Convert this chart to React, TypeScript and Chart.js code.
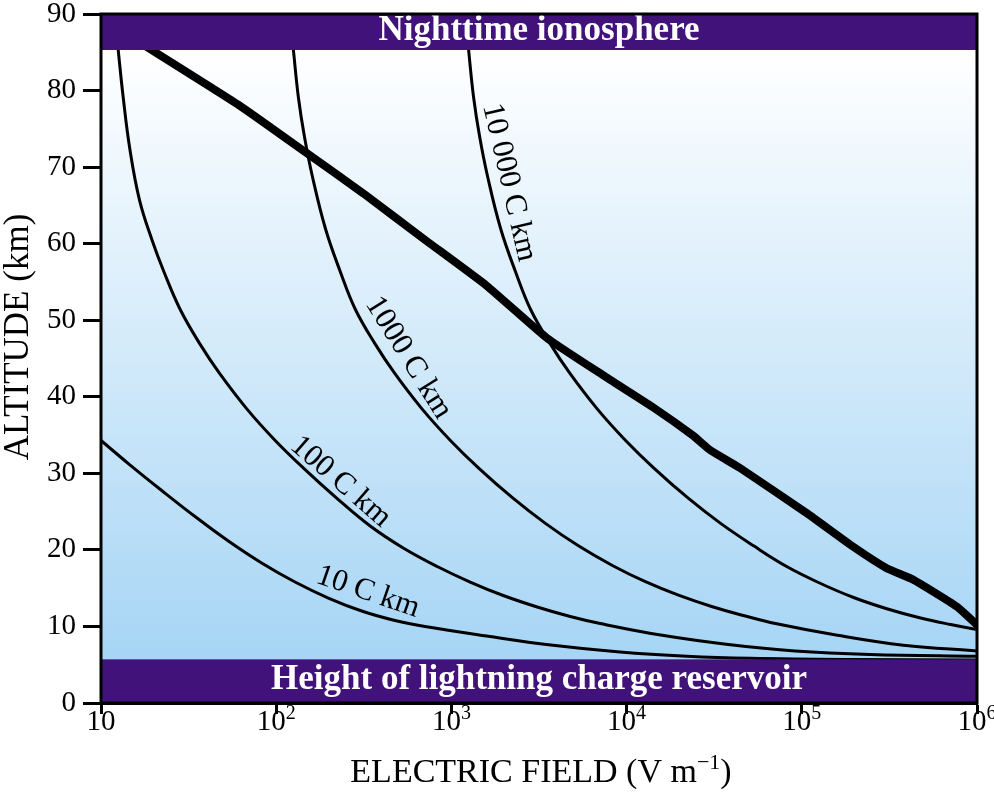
import React, { useEffect, useRef } from 'react';
import { Chart, registerables } from 'chart.js';

Chart.register(...registerables);

// ---- axis ticks ----
const fieldTicks = [10, 100, 1000, 10000, 100000, 1000000];
const fieldTickBase = ['10', '10', '10', '10', '10', '10'];
const fieldTickExp = ['', '2', '3', '4', '5', '6'];
const altitudeTicks = [0, 10, 20, 30, 40, 50, 60, 70, 80, 90];

// ---- breakdown field (thick curve) ----
const breakdownField = [14.8, 62.1, 152, 313, 707, 1591, 3499, 7362, 14210, 24030, 29920, 44390, 106700, 196800, 305200, 432900, 765900, 1000000];
const breakdownAlt = [87, 78.0, 71.7, 66.6, 60.5, 54.5, 47.7, 42.8, 38.6, 34.9, 33.05, 30.7, 24.8, 20.4, 17.6, 16.1, 12.6, 10.2];

// ---- charge-moment curves ----
const field10 = [10, 14.32, 22.21, 34.4, 53.3, 82.6, 128.1, 198.4, 307.6, 476.6, 707, 1591, 3801, 9171, 22030, 50620, 188900, 1000000];
const alt10 = [34.29, 31.28, 27.76, 24.36, 21.16, 18.29, 15.8, 13.71, 12.02, 10.78, 9.99, 8.75, 7.54, 6.66, 6.11, 5.83, 5.67, 5.62];

const field100 = [12.34, 12.54, 13.39, 14.64, 16.59, 19.55, 22.89, 28.32, 36.6, 47.29, 68.32, 98.69, 142.6, 222.9, 344, 530.8, 829.6, 1280, 1976, 3089, 4766, 7071, 15970, 38010, 91460, 245100, 1000000];
const alt100 = [86.99, 85.29, 79.09, 72.23, 65.7, 60.48, 56.3, 51.4, 46.94, 43.12, 38.36, 34.3, 30.72, 26.71, 23.12, 20.25, 17.83, 15.8, 14.04, 12.54, 11.3, 10.38, 8.84, 7.64, 6.79, 6.33, 6.1];

const field1000 = [123.4, 125.4, 133.9, 144.9, 160.9, 190.9, 232.5, 283.2, 366, 472.8, 683.2, 986.9, 1426, 2229, 3440, 5308, 8298, 12800, 19760, 30890, 47660, 70700, 159700, 380100, 1000000];
const alt1000 = [86.99, 85.29, 79.09, 73.99, 68.77, 61.98, 56.3, 51.4, 46.94, 43.12, 38.36, 34.3, 30.72, 26.82, 23.46, 20.53, 17.96, 15.84, 14.08, 12.57, 11.36, 10.38, 8.84, 7.55, 6.79];

const field10000 = [1234, 1254, 1339, 1449, 1609, 1909, 2325, 2832, 3660, 4727, 6832, 9869, 14260, 22300, 34400, 53080, 82980, 128100, 197600, 308900, 476600, 707100, 1000000];
const alt10000 = [86.99, 85.29, 79.09, 73.99, 68.77, 61.98, 56.3, 51.4, 46.94, 43.12, 38.36, 34.3, 30.72, 26.82, 23.46, 20.53, 17.76, 15.61, 13.78, 12.28, 11.1, 10.25, 9.6];

// ---- curve labels ----
const curveLabels = ['10 C km', '100 C km', '1000 C km', '10 000 C km'];
const curveLabelField = [334, 233, 569, 2133];
const curveLabelAlt = [14.5, 28.9, 45.1, 68.0];
const curveLabelAngle = [19, 41, 58, 77];

// ---- bands ----
const ionosphereAlt = [85.3, 90];
const reservoirAlt = [0, 5.7];
const bandTexts = ['Nighttime ionosphere', 'Height of lightning charge reservoir'];

const xTitle = ['ELECTRIC FIELD (V m', '\u22121', ')'];
const yTitle = 'ALTITUDE (km)';

const SERIF = '"Liberation Serif", "DejaVu Serif", serif';
const PURPLE = '#41127a';

const zip = (xs: number[], ys: number[]) => xs.map((x, i) => ({ x, y: ys[i] }));

const decorPlugin = {
  id: 'decor',
  beforeDatasetsDraw(chart: any) {
    const { ctx, chartArea: a, scales } = chart;
    const y = scales.y;
    const g = ctx.createLinearGradient(0, y.getPixelForValue(ionosphereAlt[0]), 0, y.getPixelForValue(reservoirAlt[1]));
    g.addColorStop(0, '#ffffff');
    g.addColorStop(1, '#a6d5f5');
    ctx.save();
    ctx.fillStyle = g;
    ctx.fillRect(a.left, a.top, a.right - a.left, a.bottom - a.top);
    ctx.restore();
  },
  afterDatasetsDraw(chart: any) {
    const { ctx, chartArea: a, scales } = chart;
    const x = scales.x;
    const y = scales.y;
    ctx.save();
    // bands
    const bands = [ionosphereAlt, reservoirAlt];
    bands.forEach((b, i) => {
      const top = y.getPixelForValue(b[1]);
      const bot = y.getPixelForValue(b[0]);
      ctx.fillStyle = PURPLE;
      ctx.fillRect(a.left, top, a.right - a.left, bot - top);
      ctx.fillStyle = '#ffffff';
      ctx.font = `bold 35px ${SERIF}`;
      ctx.textAlign = 'center';
      ctx.textBaseline = 'middle';
      ctx.fillText(bandTexts[i], (a.left + a.right) / 2, (top + bot) / 2 - 1);
    });
    // curve labels
    ctx.fillStyle = '#000';
    ctx.font = `31px ${SERIF}`;
    curveLabels.forEach((t, i) => {
      const px = x.getPixelForValue(curveLabelField[i]);
      const py = y.getPixelForValue(curveLabelAlt[i]);
      ctx.save();
      ctx.translate(px, py);
      ctx.rotate((curveLabelAngle[i] * Math.PI) / 180);
      ctx.textAlign = 'center';
      ctx.textBaseline = 'middle';
      ctx.fillText(t, 0, 0);
      ctx.restore();
    });
    // frame
    ctx.strokeStyle = '#000';
    ctx.lineWidth = 3;
    ctx.strokeRect(a.left, a.top, a.right - a.left, a.bottom - a.top);
    // x tick labels with superscripts
    ctx.fillStyle = '#000';
    ctx.textAlign = 'left';
    ctx.textBaseline = 'alphabetic';
    fieldTicks.forEach((v, i) => {
      const px = x.getPixelForValue(v);
      ctx.font = `29px ${SERIF}`;
      const wb = ctx.measureText(fieldTickBase[i]).width;
      ctx.font = `20px ${SERIF}`;
      const we = fieldTickExp[i] ? ctx.measureText(fieldTickExp[i]).width : 0;
      const start = px - (wb + we) / 2;
      const base = a.bottom + 27;
      ctx.font = `29px ${SERIF}`;
      ctx.fillText(fieldTickBase[i], start, base);
      if (fieldTickExp[i]) {
        ctx.font = `20px ${SERIF}`;
        ctx.fillText(fieldTickExp[i], start + wb, base - 11);
      }
    });
    // x title
    const cx = (a.left + a.right) / 2 + 2;
    const tb = a.bottom + 79;
    ctx.font = `34px ${SERIF}`;
    const w0 = ctx.measureText(xTitle[0]).width;
    const w2 = ctx.measureText(xTitle[2]).width;
    ctx.font = `22px ${SERIF}`;
    const w1 = ctx.measureText(xTitle[1]).width;
    let sx = cx - (w0 + w1 + w2) / 2;
    ctx.font = `34px ${SERIF}`;
    ctx.fillText(xTitle[0], sx, tb);
    sx += w0;
    ctx.font = `22px ${SERIF}`;
    ctx.fillText(xTitle[1], sx, tb - 13);
    sx += w1;
    ctx.font = `34px ${SERIF}`;
    ctx.fillText(xTitle[2], sx, tb);
    // y title
    ctx.save();
    ctx.translate(19, 337);
    ctx.rotate(-Math.PI / 2);
    ctx.textAlign = 'center';
    ctx.textBaseline = 'middle';
    ctx.font = `35px ${SERIF}`;
    ctx.fillText(yTitle, 0, 0);
    ctx.restore();
    ctx.restore();
  },
};

export default function App() {
  const ref = useRef<HTMLCanvasElement | null>(null);
  useEffect(() => {
    document.body.style.margin = '0';
    const canvas = ref.current;
    if (!canvas) return;
    const thin = { borderColor: '#000', borderWidth: 3, pointRadius: 0, fill: false, tension: 0.4 };
    const chart = new Chart(canvas, {
      type: 'line',
      data: {
        datasets: [
          { label: '10 C km', data: zip(field10, alt10), ...thin },
          { label: '100 C km', data: zip(field100, alt100), ...thin },
          { label: '1000 C km', data: zip(field1000, alt1000), ...thin },
          { label: '10 000 C km', data: zip(field10000, alt10000), ...thin },
          { label: 'Breakdown', data: zip(breakdownField, breakdownAlt), borderColor: '#000', borderWidth: 8, pointRadius: 0, fill: false, tension: 0.15, borderJoinStyle: 'round', borderCapStyle: 'round' },
        ],
      },
      options: {
        responsive: false,
        animation: false,
        devicePixelRatio: 1,
        parsing: false,
        layout: { padding: { top: 14, right: 17, left: 0, bottom: 0 } },
        plugins: { legend: { display: false }, tooltip: { enabled: false } },
        scales: {
          x: {
            type: 'logarithmic',
            min: 10,
            max: 1000000,
            afterBuildTicks: (s: any) => { s.ticks = fieldTicks.map((v) => ({ value: v })); },
            afterFit: (s: any) => { s.height = 91; s.paddingLeft = 0; s.paddingRight = 0; s.paddingTop = 0; s.paddingBottom = 0; },
            ticks: { display: false },
            grid: { drawOnChartArea: false, drawTicks: true, tickLength: 11, tickWidth: 3, tickColor: '#000' },
            border: { display: true, width: 3, color: '#000' },
          },
          y: {
            type: 'linear',
            min: 0,
            max: 90,
            afterBuildTicks: (s: any) => { s.ticks = altitudeTicks.map((v) => ({ value: v })); },
            afterFit: (s: any) => { s.width = 101; s.paddingTop = 0; s.paddingBottom = 0; s.paddingLeft = 0; s.paddingRight = 0; },
            ticks: { color: '#000', padding: 7, font: { family: SERIF, size: 29 } },
            grid: { drawOnChartArea: false, drawTicks: true, tickLength: 18, tickWidth: 3, tickColor: '#000' },
            border: { display: true, width: 3, color: '#000' },
          },
        },
      },
      plugins: [decorPlugin],
    } as any);
    return () => chart.destroy();
  }, []);
  return (
    <div style={{ width: 994, height: 794 }}>
      <canvas ref={ref} width={994} height={794} style={{ display: 'block' }} />
    </div>
  );
}
